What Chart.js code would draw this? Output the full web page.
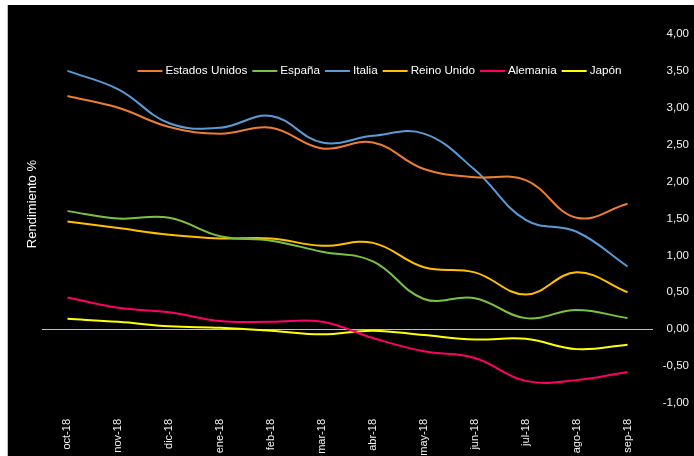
<!DOCTYPE html>
<html>
<head>
<meta charset="utf-8">
<script src="https://cdn.jsdelivr.net/npm/chart.js@4.4.1/dist/chart.umd.min.js"></script>
<style>
  html, body { margin: 0; padding: 0; background: #fff; }
  #wrap { position: absolute; left: 7px; top: 5px; width: 687px; height: 451px; background: #000; border-left: 1px solid #bfbfbf; }
</style>
</head>
<body>
<div id="wrap"><canvas id="rendChart" width="687" height="451"></canvas></div>
<script>
// meses
const categories = ['oct-18', 'nov-18', 'dic-18', 'ene-18', 'feb-18', 'mar-18', 'abr-18', 'may-18', 'jun-18', 'jul-18', 'ago-18', 'sep-18'];

// rendimiento %
const estadosUnidos = [3.16, 3.00, 2.74, 2.65, 2.73, 2.45, 2.53, 2.17, 2.06, 2.02, 1.51, 1.70];
const espana        = [1.60, 1.50, 1.51, 1.26, 1.20, 1.05, 0.92, 0.41, 0.42, 0.15, 0.26, 0.15];
const italia        = [3.50, 3.25, 2.79, 2.73, 2.89, 2.53, 2.62, 2.65, 2.16, 1.48, 1.32, 0.85];
const reinoUnido    = [1.46, 1.37, 1.28, 1.23, 1.23, 1.13, 1.17, 0.84, 0.77, 0.47, 0.77, 0.50];
const alemania      = [0.43, 0.29, 0.23, 0.11, 0.10, 0.10, -0.12, -0.30, -0.39, -0.70, -0.69, -0.58];
const japon         = [0.14, 0.10, 0.04, 0.02, -0.02, -0.07, -0.02, -0.08, -0.14, -0.13, -0.27, -0.21];

const yMin = -1, yMax = 4, yStep = 0.5;

const FONT = 'Liberation Sans, Arial, sans-serif';

function serie(label, data, color) {
     return {
          label: label,
          data: data,
          borderColor: color,
          backgroundColor: color,
          borderWidth: 2,
          pointRadius: 0,
          tension: 0.4,
          fill: false
     };
}

// leyenda en una fila dentro del area del grafico (como en Excel)
const insideLegend = {
     id: 'insideLegend',
     afterDatasetsDraw(chart) {
          const { ctx, chartArea } = chart;
          const lineW = 25, gapText = 3, gapItem = 5;
          ctx.save();
          ctx.font = '11.7px ' + FONT;
          const items = chart.data.datasets.map(ds => ({
               text: ds.label,
               color: ds.borderColor,
               w: ctx.measureText(ds.label).width
          }));
          const total = items.reduce((s, it) => s + lineW + gapText + it.w, 0) + gapItem * (items.length - 1);
          let x = (chartArea.left + chartArea.right) / 2 + 32 - total / 2;
          const y = chartArea.top + 37;
          ctx.textBaseline = 'middle';
          ctx.textAlign = 'left';
          items.forEach(it => {
               ctx.strokeStyle = it.color;
               ctx.lineWidth = 2;
               ctx.beginPath();
               ctx.moveTo(x, y);
               ctx.lineTo(x + lineW, y);
               ctx.stroke();
               x += lineW + gapText;
               ctx.fillStyle = '#ffffff';
               ctx.fillText(it.text, x, y);
               x += it.w + gapItem;
          });
          ctx.restore();
     }
};

const ctx = document.getElementById('rendChart').getContext('2d');
const rendChart = new Chart(ctx, {
     type: 'line',
     data: {
          labels: categories,
          datasets: [
               serie('Estados Unidos', estadosUnidos, '#ED7D31'),
               serie('España', espana, '#7CC242'),
               serie('Italia', italia, '#5B9BD5'),
               serie('Reino Unido', reinoUnido, '#FFC000'),
               serie('Alemania', alemania, '#FF0066'),
               serie('Japón', japon, '#FFFF00')
          ]
     },
     options: {
          responsive: false,
          animation: false,
          layout: {
               padding: { left: 0, right: 6, top: 29, bottom: 0 }
          },
          plugins: {
               legend: { display: false },
               tooltip: { enabled: false }
          },
          scales: {
               x: {
                    offset: true,
                    grid: { display: false },
                    border: { display: false },
                    ticks: {
                         color: '#f2f2f2',
                         font: { family: FONT, size: 11 },
                         minRotation: 90,
                         maxRotation: 90,
                         padding: 8,
                         autoSkip: false
                    },
                    afterFit: (axis) => { axis.height = 53; }
               },
               y: {
                    position: 'right',
                    min: yMin,
                    max: yMax,
                    grid: {
                         drawTicks: false,
                         color: (c) => (c.tick && c.tick.value === 0 ? '#bfbfbf' : 'transparent'),
                         lineWidth: 1
                    },
                    border: { display: false },
                    ticks: {
                         stepSize: yStep,
                         color: '#f2f2f2',
                         font: { family: FONT, size: 11.5 },
                         crossAlign: 'far',
                         padding: 8,
                         callback: (v) => v.toFixed(2).replace('.', ',')
                    },
                    afterFit: (axis) => { axis.width = 36; }
               },
               yTitle: {
                    position: 'left',
                    min: yMin,
                    max: yMax,
                    grid: { display: false },
                    border: { display: false },
                    ticks: { display: false },
                    title: {
                         display: true,
                         // espacios delante para subir el titulo como en el original
                         text: '        Rendimiento %',
                         color: '#ffffff',
                         font: { family: FONT, size: 13 },
                         padding: { top: 17, bottom: 0 }
                    },
                    afterFit: (axis) => { axis.width = 34; }
               }
          }
     },
     plugins: [insideLegend]
});
</script>
</body>
</html>
